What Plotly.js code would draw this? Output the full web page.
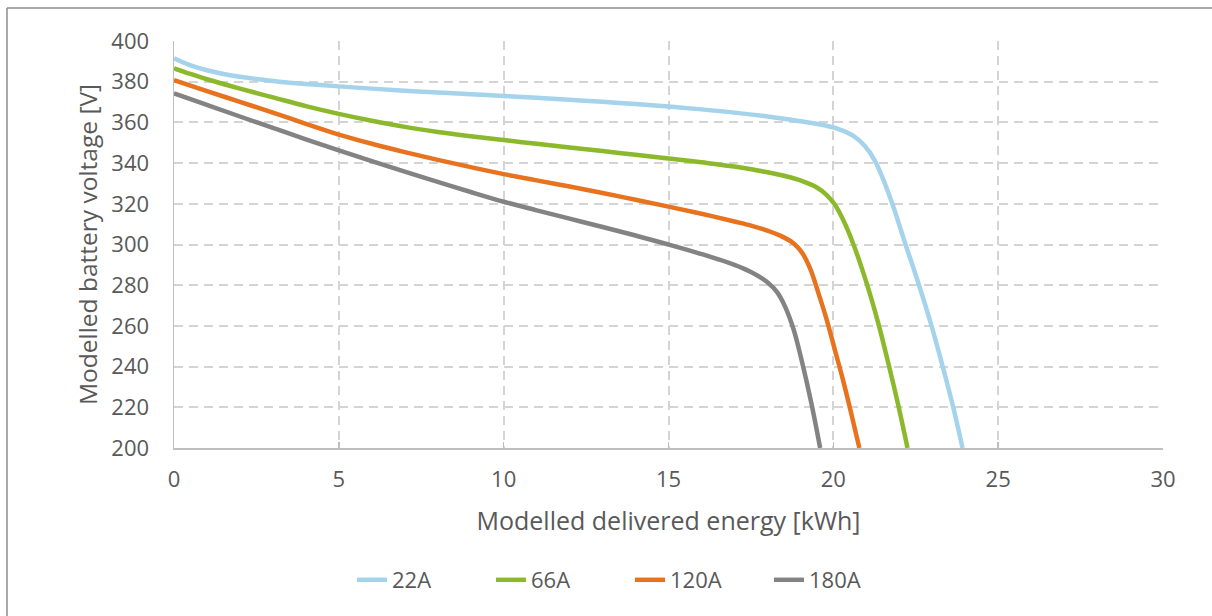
<!DOCTYPE html>
<html>
<head>
<meta charset="utf-8">
<script src="https://cdn.plot.ly/plotly-3.0.1.min.js"></script>
<style>
  html, body { margin: 0; padding: 0; background: #ffffff; }
  #chart { width: 1212px; height: 616px; }
</style>
</head>
<body>
<div id="chart"></div>
<script>
// ---- data ----
const seriesNames = ["22A", "66A", "120A", "180A"];

const energy22A = [0, 0.5, 1, 1.5, 2, 3, 4, 5, 6, 7, 8, 9, 10, 11, 12, 13, 14, 15, 16, 17, 18, 19, 19.7, 20.2, 20.6, 20.95, 21.25, 21.5, 21.8, 22.17, 22.6, 22.97, 23.31, 23.63, 23.92];
const voltage22A = [391.5, 388, 385.6, 383.8, 382.4, 380.4, 378.9, 377.7, 376.6, 375.6, 374.7, 373.8, 373, 372.1, 371.1, 370.1, 369, 367.8, 366.4, 364.8, 362.9, 360.6, 358.7, 356.5, 353.5, 348.5, 341.5, 332.5, 319.5, 301, 280, 260.5, 240.5, 220.5, 200];

const energy66A = [0, 0.5, 1, 2, 3, 4, 5, 6, 7, 8, 9, 10, 11, 12, 13, 14, 15, 16, 17, 18, 18.5, 19, 19.5, 19.8, 20.05, 20.3, 20.6, 21.0, 21.36, 21.67, 21.97, 22.25];
const voltage66A = [386.6, 383.8, 381.2, 376.6, 372.3, 368, 364.2, 360.8, 357.8, 355.3, 353.2, 351.3, 349.5, 347.7, 345.9, 344.1, 342.3, 340.4, 338.3, 335.5, 333.8, 331.5, 328, 324.3, 319.5, 312, 300.5, 281.5, 261.5, 241.5, 221, 200];

const energy120A = [0, 1, 2, 3, 4, 5, 6, 7, 8, 9, 10, 11, 12, 13, 14, 15, 16, 17, 17.5, 18, 18.5, 18.8, 19.05, 19.3, 19.55, 19.8, 20.05, 20.3, 20.55, 20.79];
const voltage120A = [380.8, 375.4, 370.1, 364.8, 359.3, 354, 349.5, 345.4, 341.6, 338, 334.6, 331.5, 328.5, 325.3, 322, 318.6, 315.1, 311.3, 309.3, 306.8, 303.5, 300.5, 296, 288, 276, 263, 248, 233, 216.5, 200];

const energy180A = [0, 1, 2, 3, 4, 5, 6, 7, 8, 9, 10, 11, 12, 13, 14, 15, 16, 17, 17.5, 18, 18.3, 18.55, 18.8, 19.04, 19.34, 19.6];
const voltage180A = [374.3, 368.6, 362.9, 357.3, 351.7, 346.3, 341, 335.8, 330.8, 325.8, 321, 316.8, 312.7, 308.6, 304.4, 300, 295.3, 290, 286.5, 281.5, 276.5, 269, 258, 243, 221.5, 200];

const xTickVals = [0, 5, 10, 15, 20, 25, 30];
const yTickVals = [200, 220, 240, 260, 280, 300, 320, 340, 360, 380, 400];

const xTitle = "Modelled delivered energy [kWh]";
const yTitle = "Modelled battery voltage [V]";

// ---- styles ----
const colors = ["#A4D3EB", "#8CB92B", "#E8731F", "#838383"];
const xs = [energy22A, energy66A, energy120A, energy180A];
const ys = [voltage22A, voltage66A, voltage120A, voltage180A];

const FONT = "Open Sans, Noto Sans, sans-serif";
const TXT = "#595959";

const traces = seriesNames.map((name, i) => ({
  type: "scatter",
  mode: "lines",
  name: name,
  x: xs[i],
  y: ys[i],
  line: { color: colors[i], width: 4.5, shape: "spline", smoothing: 1 },
  hoverinfo: "x+y+name"
}));

const W = 1212, H = 616;
const ml = 174, mr = 49, mt = 41, mb = 168;
const pw = W - ml - mr, ph = H - mt - mb;
const px2paperX = p => (p - ml) / pw;
const py2paperY = p => (H - mb - p) / ph;

const layout = {
  width: W,
  height: H,
  margin: { l: ml, r: mr, t: mt, b: mb, pad: 0 },
  paper_bgcolor: "#ffffff",
  plot_bgcolor: "#ffffff",
  font: { family: FONT, color: TXT, size: 22 },
  showlegend: true,
  legend: {
    orientation: "h",
    x: px2paperX(630), xanchor: "center",
    y: py2paperY(580), yanchor: "middle",
    font: { family: FONT, size: 22, color: TXT },
    bgcolor: "rgba(0,0,0,0)",
    traceorder: "normal",
    entrywidth: 94,
    entrywidthmode: "pixels"
  },
  xaxis: {
    range: [0, 30],
    tickvals: xTickVals,
    ticktext: xTickVals.map(String),
    showgrid: true,
    gridcolor: "#D4D4D4",
    gridwidth: 2,
    griddash: "9px,6px",
    zeroline: false,
    showline: true,
    linecolor: "#BFBFBF",
    linewidth: 1.5,
    ticks: "inside",
    ticklen: 6,
    tickcolor: "#BFBFBF",
    tickwidth: 1.5,
    ticklabelstandoff: 11,
    tickfont: { family: FONT, size: 22, color: TXT },
    title: { text: xTitle, font: { family: FONT, size: 25, color: TXT }, standoff: 20 },
    fixedrange: true
  },
  yaxis: {
    range: [200, 400],
    tickvals: yTickVals,
    ticktext: yTickVals.map(String),
    showgrid: true,
    gridcolor: "#D4D4D4",
    gridwidth: 2,
    griddash: "9px,6px",
    zeroline: false,
    showline: true,
    linecolor: "#BFBFBF",
    linewidth: 1.5,
    ticks: "",
    ticklabelstandoff: 19,
    tickfont: { family: FONT, size: 22, color: TXT },
    title: { text: yTitle, font: { family: FONT, size: 24.5, color: TXT }, standoff: 7 },
    fixedrange: true
  },
  shapes: [
    { type: "line", xref: "paper", yref: "paper",
      x0: px2paperX(7), x1: px2paperX(7), y0: py2paperY(8), y1: py2paperY(620),
      line: { color: "#8C8C8C", width: 1.5 }, layer: "above" },
    { type: "line", xref: "paper", yref: "paper",
      x0: px2paperX(7), x1: px2paperX(1216), y0: py2paperY(8), y1: py2paperY(8),
      line: { color: "#8C8C8C", width: 1.5 }, layer: "above" }
  ]
};

Plotly.newPlot("chart", traces, layout, { displayModeBar: false, staticPlot: true });
</script>
</body>
</html>
